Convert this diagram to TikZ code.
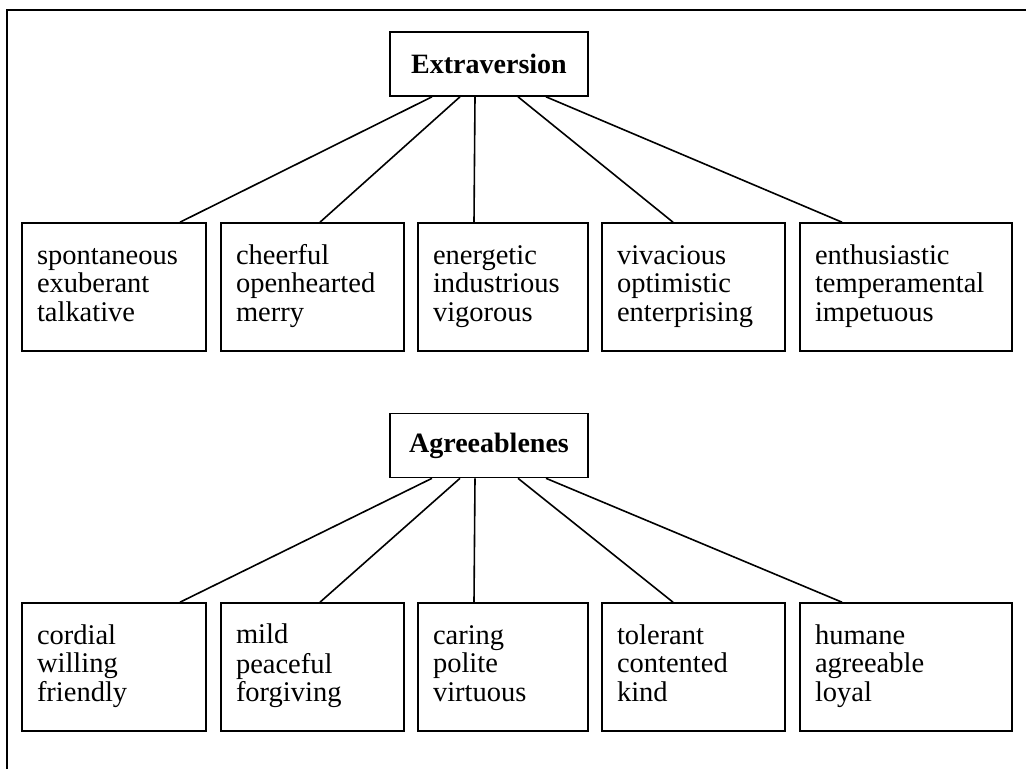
\documentclass[tikz,border=0pt]{standalone}
\usepackage{fontspec}
\setmainfont{Liberation Serif}
\begin{document}
\begin{tikzpicture}[x=1pt,y=-1pt,
  head/.style={draw, line width=1.6pt, minimum width=198pt, minimum height=64pt, inner sep=0pt,
    font=\bfseries\fontsize{28}{28}\selectfont},
  leaf/.style={draw, line width=1.6pt, minimum height=128pt, inner xsep=15pt, inner ysep=0pt,
    align=left, font=\fontsize{28.5}{28.5}\selectfont,
    execute at begin node=\strut, execute at end node=\strut},
  link/.style={line width=1.6pt}]
\useasboundingbox (0,0) rectangle (1026,769);
\draw[line width=2.6pt] (7,769) -- (7,10) -- (1026,10);

% Extraversion
\node[head] (ext) at (489,64) {Extraversion};
\node[leaf, text width=154pt] (e1) at (114,287) {spontaneous\\exuberant\\talkative};
\node[leaf, text width=153pt] (e2) at (312.5,287) {cheerful\\openhearted\\merry};
\node[leaf, text width=140pt] (e3) at (503,287) {energetic\\industrious\\vigorous};
\node[leaf, text width=153pt] (e4) at (693.5,287) {vivacious\\optimistic\\enterprising};
\node[leaf, text width=182pt] (e5) at (906,287) {enthusiastic\\temperamental\\impetuous};

\draw[link] ([xshift=-57pt]ext.south) -- ([xshift=66pt]e1.north);
\draw[link] ([xshift=-29pt]ext.south) -- ([xshift=7.5pt]e2.north);
\draw[link] ([xshift=-14pt]ext.south) -- ([xshift=-29pt]e3.north);
\draw[link] ([xshift=29pt]ext.south) -- ([xshift=-20.5pt]e4.north);
\draw[link] ([xshift=57pt]ext.south) -- ([xshift=-64pt]e5.north);

% Agreeablenes
\node[head] (agr) at (489,445.5) {Agreeablenes};
\node[leaf, text width=154pt] (a1) at (114,667) {cordial\\willing\\friendly};
\node[leaf, text width=153pt] (a2) at (312.5,667) {mild\\peaceful\\forgiving};
\node[leaf, text width=140pt] (a3) at (503,667) {caring\\polite\\virtuous};
\node[leaf, text width=153pt] (a4) at (693.5,667) {tolerant\\contented\\kind};
\node[leaf, text width=182pt] (a5) at (906,667) {humane\\agreeable\\loyal};

\draw[link] ([xshift=-57pt]agr.south) -- ([xshift=66pt]a1.north);
\draw[link] ([xshift=-29pt]agr.south) -- ([xshift=7.5pt]a2.north);
\draw[link] ([xshift=-14pt]agr.south) -- ([xshift=-29pt]a3.north);
\draw[link] ([xshift=29pt]agr.south) -- ([xshift=-20.5pt]a4.north);
\draw[link] ([xshift=57pt]agr.south) -- ([xshift=-64pt]a5.north);
\end{tikzpicture}
\end{document}
